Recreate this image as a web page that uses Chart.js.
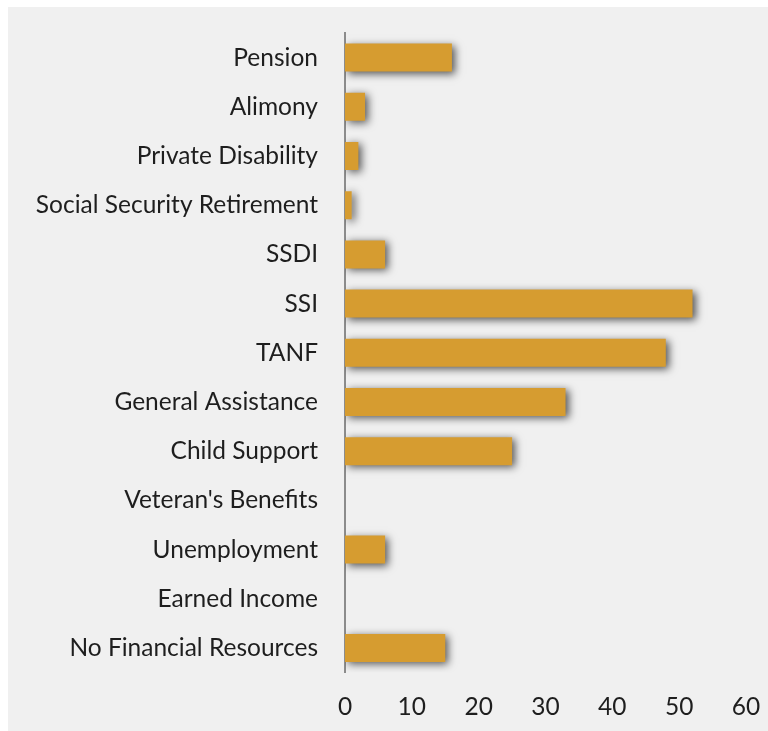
<!DOCTYPE html>
<html>
<head>
<meta charset="utf-8">
<script src="https://cdn.jsdelivr.net/npm/chart.js@4"></script>
<style>
  html, body { margin: 0; padding: 0; background: #ffffff; }
  #wrap { position: absolute; left: 8px; top: 7px; width: 760px; height: 724px; background: #f0f0f0; }
</style>
</head>
<body>
<div id="wrap"><canvas id="MyChart" width="760" height="724"></canvas></div>
<script>
  // categories, top to bottom
  const categories = [
    "Pension",
    "Alimony",
    "Private Disability",
    "Social Security Retirement",
    "SSDI",
    "SSI",
    "TANF",
    "General Assistance",
    "Child Support",
    "Veteran's Benefits",
    "Unemployment",
    "Earned Income",
    "No Financial Resources",
  ];
  const counts = [16, 3, 2, 1, 6, 52, 48, 33, 25, 0, 6, 0, 15];
  const xTicks = [0, 10, 20, 30, 40, 50, 60];

  // soft drop shadow under the bars
  const barShadow = {
    id: "barShadow",
    beforeDatasetsDraw(chart) {
      const ctx = chart.ctx;
      ctx.save();
      ctx.shadowColor = "rgba(0,0,0,0.65)";
      ctx.shadowBlur = 8;
      ctx.shadowOffsetX = 3;
      ctx.shadowOffsetY = 2;
    },
    afterDatasetsDraw(chart) {
      chart.ctx.restore();
    },
  };

  const font = { family: "Lato, 'Open Sans', sans-serif", size: 24.5 };

  const config = {
    type: "bar",
    data: {
      labels: categories,
      datasets: [
        {
          data: counts,
          backgroundColor: "#d69c30",
          borderWidth: 0,
          barPercentage: 0.57,
          categoryPercentage: 1,
        },
      ],
    },
    options: {
      indexAxis: "y",
      responsive: false,
      animation: false,
      layout: { padding: { top: 26, right: 22, bottom: 5, left: 0 } },
      plugins: { legend: { display: false }, tooltip: { enabled: false } },
      scales: {
        y: {
          // tick marks hidden, tickLength only pushes the labels away from the axis
          grid: { display: false, drawTicks: true, tickLength: 24 },
          border: { display: true, color: "#8c8c8c", width: 2 },
          ticks: { color: "#1e1e1e", font: font, padding: 3 },
          afterFit(axis) { axis.width = 337; },
        },
        x: {
          min: 0,
          max: 60,
          afterBuildTicks(axis) { axis.ticks = xTicks.map(v => ({ value: v })); },
          grid: { display: false, drawTicks: true, tickLength: 16 },
          border: { display: false },
          ticks: { color: "#1e1e1e", font: font, padding: 4, maxRotation: 0 },
        },
      },
    },
    plugins: [barShadow],
  };

  const myChart = new Chart(document.getElementById("MyChart"), config);
</script>
</body>
</html>
